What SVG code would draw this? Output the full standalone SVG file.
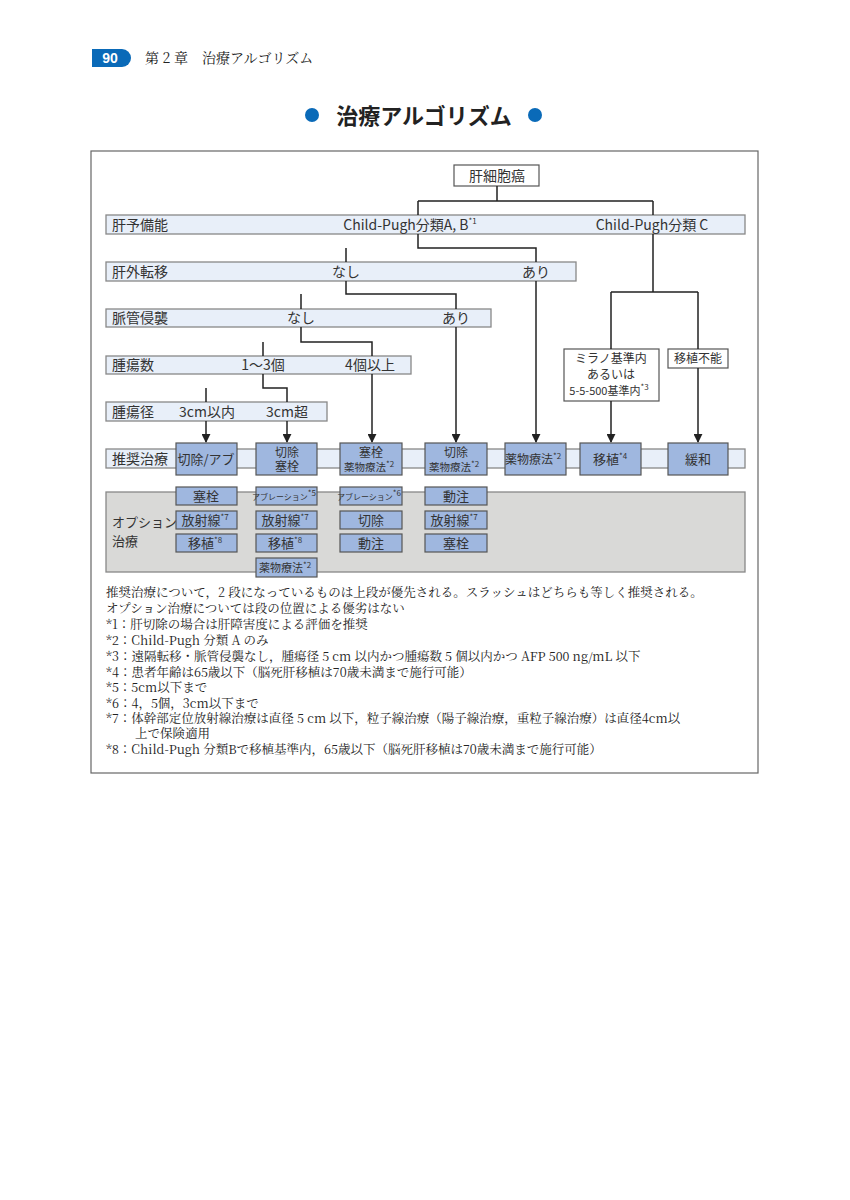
<svg xmlns="http://www.w3.org/2000/svg" width="850" height="1200" viewBox="0 0 850 1200">
<defs>
<marker id="ar" viewBox="0 0 10 10" refX="9" refY="5" markerWidth="6" markerHeight="6" orient="auto"><path d="M0,0 L10,5 L0,10 z" fill="#222"/></marker>
<style>
text{font-family:"Noto Sans CJK JP","Noto Sans CJK SC",sans-serif;fill:#333}
.bar{fill:#e8eff9;stroke:#888;stroke-width:1.3}
.tb{fill:#9fb7df;stroke:#555;stroke-width:1.2}
.wb{fill:#fff;stroke:#555;stroke-width:1.2}
.l{font-size:14px}
.s{font-size:13px}
.t{font-size:12px}
.xs{font-size:8px}
.sup{font-size:8px}
.c{text-anchor:middle}
.n{font-family:"Noto Serif CJK JP","Liberation Serif",serif;font-size:12.5px;fill:#222}
.ln{fill:none;stroke:#222;stroke-width:1.5}
</style>
</defs>
<rect width="850" height="1200" fill="#fff"/>
<g id="header">
<path d="M92,49 H122 A9,9 0 0 1 122,67 H92 z" fill="#0a6ab8"/>
<text x="110" y="63" class="c" style="font-family:'Liberation Sans',sans-serif;font-weight:bold;font-size:14px;fill:#fff">90</text>
<text x="145" y="63" class="n" style="font-size:14px">第 2 章　治療アルゴリズム</text>
<circle cx="312" cy="115" r="7" fill="#0a6ab8"/>
<circle cx="535" cy="115" r="7" fill="#0a6ab8"/>
<text x="424" y="124" class="c" style="font-size:22px;font-weight:bold;fill:#222">治療アルゴリズム</text>
</g>
<rect x="91" y="151" width="667" height="622" fill="#fff" stroke="#666" stroke-width="1.2"/>
<g id="bars">
<rect class="bar" x="106" y="215" width="639" height="19"/>
<rect class="bar" x="106" y="262" width="470" height="19"/>
<rect class="bar" x="106" y="309" width="385" height="18"/>
<rect class="bar" x="106" y="356" width="305" height="18"/>
<rect class="bar" x="106" y="402" width="221" height="19"/>
<rect class="bar" x="106" y="449" width="639" height="19"/>
<rect x="106" y="492" width="639" height="80" fill="#d9d9d7" stroke="#888" stroke-width="1.3"/>
<text class="l" x="112" y="230">肝予備能</text>
<text class="l c" x="410" y="230">Child-Pugh分類A, B<tspan class="sup" dy="-6">*1</tspan></text>
<text class="l c" x="652" y="230">Child-Pugh分類 C</text>
<text class="l" x="112" y="277">肝外転移</text>
<text class="l c" x="346" y="277">なし</text>
<text class="l c" x="536" y="277">あり</text>
<text class="l" x="112" y="323">脈管侵襲</text>
<text class="l c" x="301" y="323">なし</text>
<text class="l c" x="456" y="323">あり</text>
<text class="l" x="112" y="370">腫瘍数</text>
<text class="l c" x="263" y="370">1～3個</text>
<text class="l c" x="370" y="370">4個以上</text>
<text class="l" x="112" y="417">腫瘍径</text>
<text class="l c" x="207" y="417">3cm以内</text>
<text class="l c" x="287" y="417">3cm超</text>
<text class="l" x="112" y="464">推奨治療</text>
<text class="s" x="112" y="527">オプション</text>
<text class="s" x="112" y="546">治療</text>
</g>
<g id="n_root"><rect class="wb" x="454" y="165" width="85" height="21"/><text class="l c" x="497" y="181">肝細胞癌</text></g>
<g id="n_milan"><rect class="wb" x="564" y="349" width="95" height="52"/>
<text class="t c" x="611" y="363">ミラノ基準内</text><text class="t c" x="611" y="379">あるいは</text><text class="c" x="609" y="395" style="font-size:11px">5-5-500基準内<tspan class="sup" dy="-5">*3</tspan></text></g>
<g id="n_nontx"><rect class="wb" x="668" y="349" width="60" height="19"/><text class="t c" x="698" y="363">移植不能</text></g>
<g id="connectors">
<path class="ln" d="M497,186 V201 M418,201 H653 M418,201 V215 M653,201 V215"/>
<path class="ln" d="M418,234 V248 H536 V262 M346,248 V262"/>
<path class="ln" d="M346,281 V294 H456 V309 M301,294 V309"/>
<path class="ln" d="M301,327 V342 H372 V356 M263,342 V356"/>
<path class="ln" d="M263,374 V388 H287 V402 M206,388 V402"/>
<path class="ln" d="M653,234 V292 M611,292 H698 M611,292 V349 M698,292 V349"/>
<path class="ln" marker-end="url(#ar)" d="M206,421 V442"/>
<path class="ln" marker-end="url(#ar)" d="M287,421 V442"/>
<path class="ln" marker-end="url(#ar)" d="M372,374 V442"/>
<path class="ln" marker-end="url(#ar)" d="M456,327 V442"/>
<path class="ln" marker-end="url(#ar)" d="M536,281 V442"/>
<path class="ln" marker-end="url(#ar)" d="M611,401 V442"/>
<path class="ln" marker-end="url(#ar)" d="M698,368 V442"/>
</g>
<g id="t1"><rect class="tb" x="176" y="443" width="61" height="32"/><text class="s c" x="206" y="464">切除/アブ</text></g>
<g id="t2"><rect class="tb" x="256" y="443" width="61" height="32"/><text class="t c" x="287" y="457">切除</text><text class="t c" x="287" y="471">塞栓</text></g>
<g id="t3"><rect class="tb" x="340" y="443" width="62" height="32"/><text class="t c" x="371" y="457">塞栓</text><text class="c" x="369" y="471" style="font-size:10.5px">薬物療法<tspan class="sup" dy="-4">*2</tspan></text></g>
<g id="t4"><rect class="tb" x="425" y="443" width="62" height="32"/><text class="t c" x="456" y="457">切除</text><text class="c" x="454" y="471" style="font-size:10.5px">薬物療法<tspan class="sup" dy="-4">*2</tspan></text></g>
<g id="t5"><rect class="tb" x="505" y="443" width="61" height="32"/><text class="c" x="533" y="464" style="font-size:12px">薬物療法<tspan class="sup" dy="-5">*2</tspan></text></g>
<g id="t6"><rect class="tb" x="580" y="443" width="61" height="32"/><text class="s c" x="610" y="464">移植<tspan class="sup" dy="-5">*4</tspan></text></g>
<g id="t7"><rect class="tb" x="668" y="443" width="60" height="32"/><text class="s c" x="698" y="464">緩和</text></g>
<g id="options">
<rect class="tb" x="176" y="487" width="61" height="18"/><text class="s c" x="206" y="501">塞栓</text>
<rect class="tb" x="176" y="511" width="61" height="18"/><text class="s c" x="205" y="525">放射線<tspan class="sup" dy="-5">*7</tspan></text>
<rect class="tb" x="176" y="534" width="61" height="18"/><text class="s c" x="205" y="548">移植<tspan class="sup" dy="-5">*8</tspan></text>
<rect class="tb" x="256" y="487" width="61" height="18"/><text class="xs c" x="284" y="500">アブレーション<tspan dy="-4">*5</tspan></text>
<rect class="tb" x="256" y="511" width="61" height="18"/><text class="s c" x="285" y="525">放射線<tspan class="sup" dy="-5">*7</tspan></text>
<rect class="tb" x="256" y="534" width="61" height="18"/><text class="s c" x="285" y="548">移植<tspan class="sup" dy="-5">*8</tspan></text>
<rect class="tb" x="256" y="558" width="61" height="19"/><text class="c" x="285" y="572" style="font-size:11px">薬物療法<tspan class="sup" dy="-4">*2</tspan></text>
<rect class="tb" x="340" y="487" width="62" height="18"/><text class="xs c" x="369" y="500">アブレーション<tspan dy="-4">*6</tspan></text>
<rect class="tb" x="340" y="511" width="62" height="18"/><text class="s c" x="371" y="525">切除</text>
<rect class="tb" x="340" y="534" width="62" height="18"/><text class="s c" x="371" y="548">動注</text>
<rect class="tb" x="425" y="487" width="62" height="18"/><text class="s c" x="456" y="501">動注</text>
<rect class="tb" x="425" y="511" width="62" height="18"/><text class="s c" x="454" y="525">放射線<tspan class="sup" dy="-5">*7</tspan></text>
<rect class="tb" x="425" y="534" width="62" height="18"/><text class="s c" x="456" y="548">塞栓</text>
</g>
<g id="notes">
<text class="n" x="106" y="597">推奨治療について，2 段になっているものは上段が優先される。スラッシュはどちらも等しく推奨される。</text>
<text class="n" x="106" y="613">オプション治療については段の位置による優劣はない</text>
<text class="n" x="106" y="629">*1：肝切除の場合は肝障害度による評価を推奨</text>
<text class="n" x="106" y="645">*2：Child-Pugh 分類 A のみ</text>
<text class="n" x="106" y="661">*3：遠隔転移・脈管侵襲なし，腫瘍径 5 cm 以内かつ腫瘍数 5 個以内かつ AFP 500 ng/mL 以下</text>
<text class="n" x="106" y="677">*4：患者年齢は65歳以下（脳死肝移植は70歳未満まで施行可能）</text>
<text class="n" x="106" y="692">*5：5cm以下まで</text>
<text class="n" x="106" y="708">*6：4，5個，3cm以下まで</text>
<text class="n" x="106" y="723">*7：体幹部定位放射線治療は直径 5 cm 以下，粒子線治療（陽子線治療，重粒子線治療）は直径4cm以</text>
<text class="n" x="135" y="738">上で保険適用</text>
<text class="n" x="106" y="754">*8：Child-Pugh 分類Bで移植基準内，65歳以下（脳死肝移植は70歳未満まで施行可能）</text>
</g>
</svg>
